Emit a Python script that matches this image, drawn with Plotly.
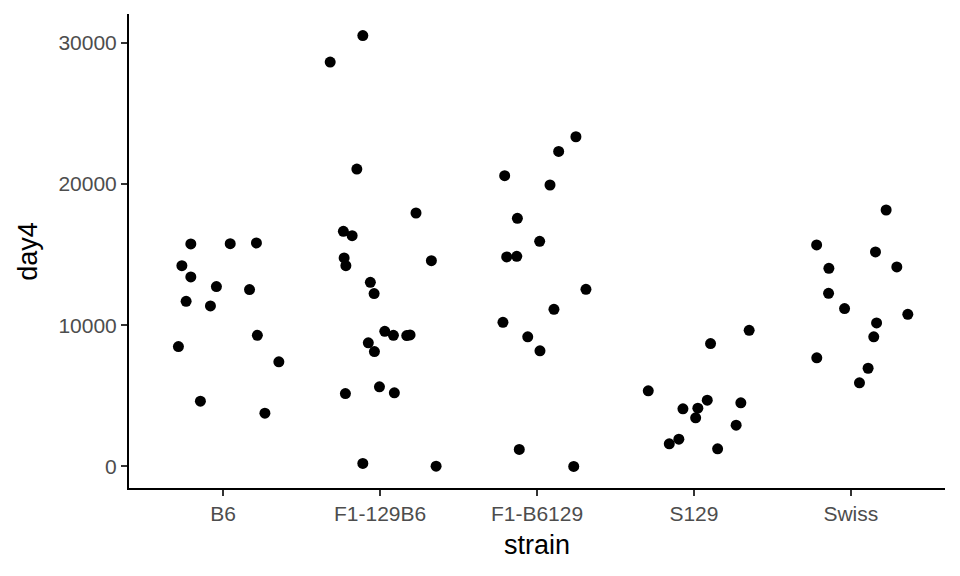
import plotly.graph_objects as go

categories = ["B6", "F1-129B6", "F1-B6129", "S129", "Swiss"]

# jitter offsets (category units) and day4 values
b6_off = [-0.285, -0.263, -0.236, -0.206, -0.206, -0.145, -0.081, -0.043, 0.045, 0.168, 0.212, 0.218, 0.266, 0.355]
b6_val = [8485, 14212, 11688, 13413, 15746, 4617, 11362, 12727, 15768, 12515, 15817, 9284, 3769, 7403]

f1a_off = [-0.110, -0.318, -0.148, 0.229, -0.234, -0.178, -0.229, -0.218, 0.327, -0.062, -0.038,
           0.030, 0.085, 0.170, 0.191, -0.075, -0.036, -0.004, -0.221, 0.091, -0.110, 0.357]
f1a_val = [30496, 28615, 21049, 17938, 16637, 16333, 14756, 14212, 14566, 13031, 12232,
           9567, 9284, 9263, 9312, 8746, 8131, 5635, 5162, 5211, 212, 21]

f1b_off = [0.248, 0.138, -0.206, 0.083, -0.125, 0.017, -0.193, -0.129, 0.312, 0.108, -0.217, -0.059, 0.019, -0.113, 0.234]
f1b_val = [23333, 22294, 20576, 19918, 17557, 15930, 14827, 14870, 12536, 11122, 10203, 9171, 8181, 1202, 0]

s129_off = [0.352, 0.106, -0.291, 0.085, 0.299, -0.070, 0.025, 0.011, 0.269, -0.096, -0.157, 0.151]
s129_val = [9637, 8697, 5352, 4688, 4504, 4080, 4122, 3443, 2920, 1930, 1605, 1251]

swiss_off = [0.225, -0.218, 0.157, -0.140, 0.293, -0.142, -0.040, 0.363, 0.164, 0.146, -0.217, 0.110, 0.055]
swiss_val = [18150, 15676, 15181, 14021, 14120, 12253, 11172, 10769, 10161, 9171, 7686, 6950, 5918]

y_ticks = [0, 10000, 20000, 30000]
x_title = "strain"
y_title = "day4"

groups = [b6_off, f1a_off, f1b_off, s129_off, swiss_off]
values = [b6_val, f1a_val, f1b_val, s129_val, swiss_val]

xs, ys = [], []
for i, (offs, vals) in enumerate(zip(groups, values)):
    xs += [i + 1 + o for o in offs]
    ys += vals

ymin, ymax = min(ys), max(ys)
rng = ymax - ymin
yrange = [ymin - 0.05 * rng, ymax + 0.05 * rng]

fig = go.Figure()
fig.add_trace(go.Scatter(
    x=xs, y=ys, mode="markers",
    marker=dict(color="black", size=11, line=dict(width=0)),
    showlegend=False, hoverinfo="skip", cliponaxis=False,
))

font_family = "Liberation Sans, Arial, sans-serif"

# the page body adds an 8px offset, margins compensate for it
fig.update_layout(
    width=960, height=576,
    margin=dict(l=121, r=23, t=6, b=96),
    paper_bgcolor="white", plot_bgcolor="white",
    font=dict(family=font_family, color="black"),
    xaxis=dict(
        range=[0.4, 5.6], automargin=False,
        tickmode="array", tickvals=list(range(1, len(categories) + 1)), ticktext=categories,
        showgrid=False, zeroline=False,
        showline=True, linecolor="black", linewidth=2,
        ticks="outside", ticklen=6, tickwidth=2, tickcolor="#333333",
        tickfont=dict(size=21, color="#4D4D4D", family=font_family),
    ),
    yaxis=dict(
        range=yrange, automargin=False,
        tickmode="array", tickvals=y_ticks, ticktext=[str(v) for v in y_ticks],
        showgrid=False, zeroline=False,
        showline=True, linecolor="black", linewidth=2,
        ticks="outside", ticklen=6, tickwidth=2, tickcolor="#333333",
        tickfont=dict(size=21, color="#4D4D4D", family=font_family),
    ),
    annotations=[
        dict(text=x_title, xref="paper", yref="paper", x=0.5, y=-0.121,
             xanchor="center", yanchor="middle", showarrow=False,
             font=dict(size=27, color="black", family=font_family)),
        dict(text=y_title, xref="paper", yref="paper", x=-0.124, y=0.5,
             xanchor="center", yanchor="middle", textangle=-90, showarrow=False,
             font=dict(size=27, color="black", family=font_family)),
    ],
)

fig.write_html("out.html")
